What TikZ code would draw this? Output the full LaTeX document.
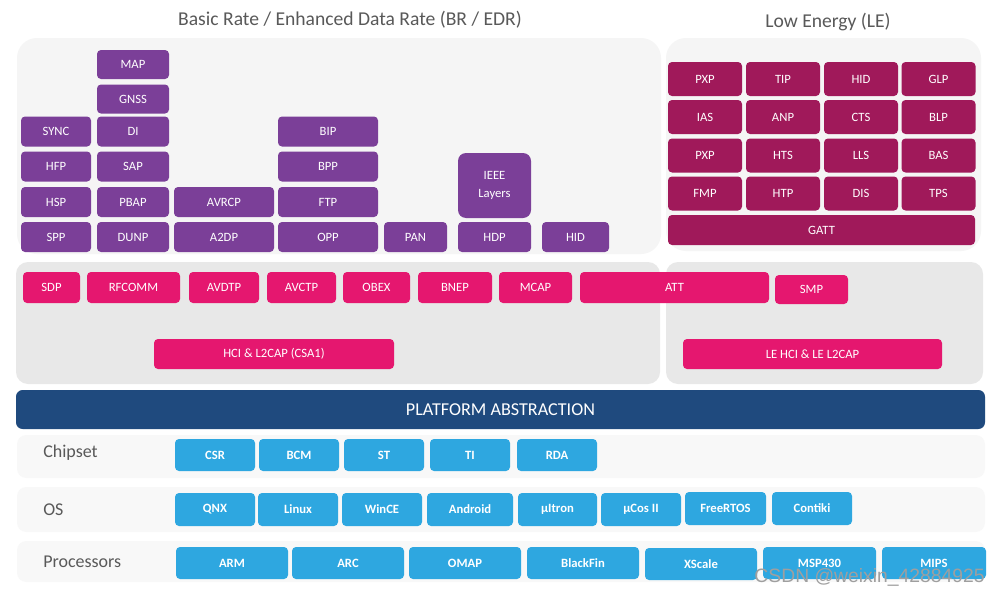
\documentclass[tikz,border=0pt]{standalone}
\usepackage{fontspec}
\setmainfont{Carlito}
\newfontfamily\wmfont{Liberation Sans}
\usepackage{tikz}
\definecolor{brpurple}{HTML}{7B3F98}
\definecolor{lecrimson}{HTML}{A0195A}
\definecolor{corepink}{HTML}{E5176F}
\definecolor{platblue}{HTML}{1F4A7E}
\definecolor{chipblue}{HTML}{2EA7E0}
\definecolor{labelgray}{HTML}{595959}
\definecolor{toppanel}{HTML}{F5F5F5}
\definecolor{midpanel}{HTML}{E8E8E8}
\definecolor{lowpanel}{HTML}{F8F8F8}
\tikzset{
  wh/.style 2 args={minimum width=#1*0.75pt, minimum height=#2*0.75pt},
  blk/.style={rounded corners=3pt, inner sep=0pt, text=white, font=\fontsize{9.5}{11}\selectfont},
  pbox/.style={blk, fill=brpurple},
  lebox/.style={blk, fill=lecrimson},
  kbox/.style={blk, fill=corepink},
  cbox/.style={blk, fill=chipblue, font=\fontsize{9.5}{11}\selectfont\bfseries},
  title/.style={text=labelgray, font=\fontsize{14.7}{17}\selectfont},
  rowlabel/.style={text=labelgray, anchor=west, inner sep=0pt, font=\fontsize{13.5}{16}\selectfont},
}

\begin{document}
\begin{tikzpicture}[x=0.75pt, y=-0.75pt]
\useasboundingbox[fill=white] (0,0) rectangle (1000,596);

% panels
\fill[toppanel, rounded corners=15pt] (17,38) rectangle (661,254);
\fill[toppanel, rounded corners=15pt] (666,38) rectangle (981,251);
\fill[midpanel, rounded corners=9pt] (16,262) rectangle (660,384);
\fill[midpanel, rounded corners=9pt] (666,262) rectangle (983,384);
\fill[lowpanel, rounded corners=7pt] (17,435) rectangle (985,478);
\fill[lowpanel, rounded corners=7pt] (17,487) rectangle (985,532);
\fill[lowpanel, rounded corners=7pt] (17,541) rectangle (985,582);

% titles
\node[title] (brtitle) at (350,20) {Basic Rate / Enhanced Data Rate (BR / EDR)};
\node[title] (letitle) at (828,22) {Low Energy (LE)};

% BR/EDR profiles
\node[pbox, wh={70}{30}] (spp) at (56,237) {SPP};
\node[pbox, wh={70}{30}] (hsp) at (56,202) {HSP};
\node[pbox, wh={70}{30}] (hfp) at (56,166.5) {HFP};
\node[pbox, wh={70}{30}] (sync) at (56,131.5) {SYNC};
\node[pbox, wh={72}{30}] (dunp) at (133,237) {DUNP};
\node[pbox, wh={72}{30}] (pbap) at (133,202) {PBAP};
\node[pbox, wh={72}{30}] (sap) at (133,166.5) {SAP};
\node[pbox, wh={72}{30}] (di) at (133,131.5) {DI};
\node[pbox, wh={72}{29}] (gnss) at (133,99) {GNSS};
\node[pbox, wh={72}{29}] (map) at (133,64.5) {MAP};
\node[pbox, wh={100}{30}] (atdp) at (224,237) {A2DP};
\node[pbox, wh={100}{30}] (avrcp) at (224,202) {AVRCP};
\node[pbox, wh={100}{30}] (opp) at (328,237) {OPP};
\node[pbox, wh={100}{30}] (ftp) at (328,202) {FTP};
\node[pbox, wh={100}{30}] (bpp) at (328,166.5) {BPP};
\node[pbox, wh={100}{30}] (bip) at (328,131.5) {BIP};
\node[pbox, wh={63}{30}] (pan) at (415.5,237) {PAN};
\node[pbox, wh={73}{30}] (hdp) at (494.5,237) {HDP};
\node[pbox, wh={73}{65}, align=center, rounded corners=6pt] (ieee) at (494.5,185.5) {IEEE\\[3pt]Layers};
\node[pbox, wh={67}{30}] (brhid) at (575.5,237) {HID};

% LE profiles
\node[lebox, wh={74}{34}] (pxpa) at (705,79) {PXP};
\node[lebox, wh={74}{34}] (tip) at (783,79) {TIP};
\node[lebox, wh={74}{34}] (lehid) at (861,79) {HID};
\node[lebox, wh={74}{34}] (glp) at (938.5,79) {GLP};
\node[lebox, wh={74}{34}] (ias) at (705,117) {IAS};
\node[lebox, wh={74}{34}] (anp) at (783,117) {ANP};
\node[lebox, wh={74}{34}] (cts) at (861,117) {CTS};
\node[lebox, wh={74}{34}] (blp) at (938.5,117) {BLP};
\node[lebox, wh={74}{34}] (pxpb) at (705,155.5) {PXP};
\node[lebox, wh={74}{34}] (hts) at (783,155.5) {HTS};
\node[lebox, wh={74}{34}] (lls) at (861,155.5) {LLS};
\node[lebox, wh={74}{34}] (bas) at (938.5,155.5) {BAS};
\node[lebox, wh={74}{34}] (fmp) at (705,193.5) {FMP};
\node[lebox, wh={74}{34}] (htp) at (783,193.5) {HTP};
\node[lebox, wh={74}{34}] (dis) at (861,193.5) {DIS};
\node[lebox, wh={74}{34}] (tps) at (938.5,193.5) {TPS};
\node[lebox, wh={307}{30}] (gatt) at (821.5,230) {GATT};

% core protocols
\node[kbox, wh={57}{31}] (sdp) at (51.5,287.5) {SDP};
\node[kbox, wh={93}{31}] (rfcomm) at (133.5,287.5) {RFCOMM};
\node[kbox, wh={70}{31}] (avdtp) at (224,287.5) {AVDTP};
\node[kbox, wh={69}{31}] (avctp) at (301.5,287.5) {AVCTP};
\node[kbox, wh={67}{31}] (obex) at (376.5,287.5) {OBEX};
\node[kbox, wh={74}{31}] (bnep) at (455,287.5) {BNEP};
\node[kbox, wh={73}{31}] (mcap) at (535.5,287.5) {MCAP};
\node[kbox, wh={189}{31}] (att) at (674.5,287.5) {ATT};
\node[kbox, wh={73}{29}] (smp) at (811.5,289.5) {SMP};
\node[kbox, wh={240}{30}] (hcil) at (274,354) {HCI \& L2CAP (CSA1)};
\node[kbox, wh={259}{30}] (lehcil) at (812.5,354) {LE HCI \& LE L2CAP};

% platform
\node[fill=platblue, rounded corners=5pt, wh={969}{39}, text=white, font=\fontsize{13.6}{16}\selectfont] (platform) at (500.5,409.5) {PLATFORM ABSTRACTION};

% chipset / os / processors
\node[rowlabel] (chiplbl) at (43,453) {Chipset};
\node[rowlabel] (oslbl) at (43,510) {OS};
\node[rowlabel] (proclbl) at (43,562) {Processors};

\node[cbox, wh={80}{32}] (csr) at (215,455) {CSR};
\node[cbox, wh={80}{32}] (bcm) at (299,455) {BCM};
\node[cbox, wh={80}{32}] (st) at (384,455) {ST};
\node[cbox, wh={80}{32}] (ti) at (470,455) {TI};
\node[cbox, wh={80}{32}] (rda) at (557,455) {RDA};

\node[cbox, wh={80}{33}] (qnx) at (215,509.5) {QNX};
\node[cbox, wh={80}{33}] (linux) at (298,509.5) {Linux};
\node[cbox, wh={80}{33}] (wince) at (382,509.5) {WinCE};
\node[cbox, wh={86}{33}] (android) at (470,509.5) {Android};
\node[cbox, wh={79}{33}] (uitron) at (557.5,509.5) {µItron};
\node[cbox, wh={80}{33}] (ucos) at (641,509.5) {µCos II};
\node[cbox, wh={81}{33}] (freertos) at (725.5,508.5) {FreeRTOS};
\node[cbox, wh={80}{33}] (contiki) at (812,508.5) {Contiki};

\node[cbox, wh={112}{32}] (arm) at (232,563) {ARM};
\node[cbox, wh={112}{32}] (arc) at (348,563) {ARC};
\node[cbox, wh={112}{32}] (omap) at (465,563) {OMAP};
\node[cbox, wh={112}{32}] (blackfin) at (583,563) {BlackFin};
\node[cbox, wh={112}{32}] (xscale) at (701,564) {XScale};
\node[cbox, wh={113}{32}] (msp) at (819.5,563) {MSP430};
\node[cbox, wh={104}{32}] (mips) at (934,563) {MIPS};

% watermark
\node[anchor=east, inner sep=0pt, text=gray!75, font=\wmfont\fontsize{14.5}{16}\selectfont] (wmark) at (985,577) {CSDN @weixin\_42884925};
\end{tikzpicture}
\end{document}
